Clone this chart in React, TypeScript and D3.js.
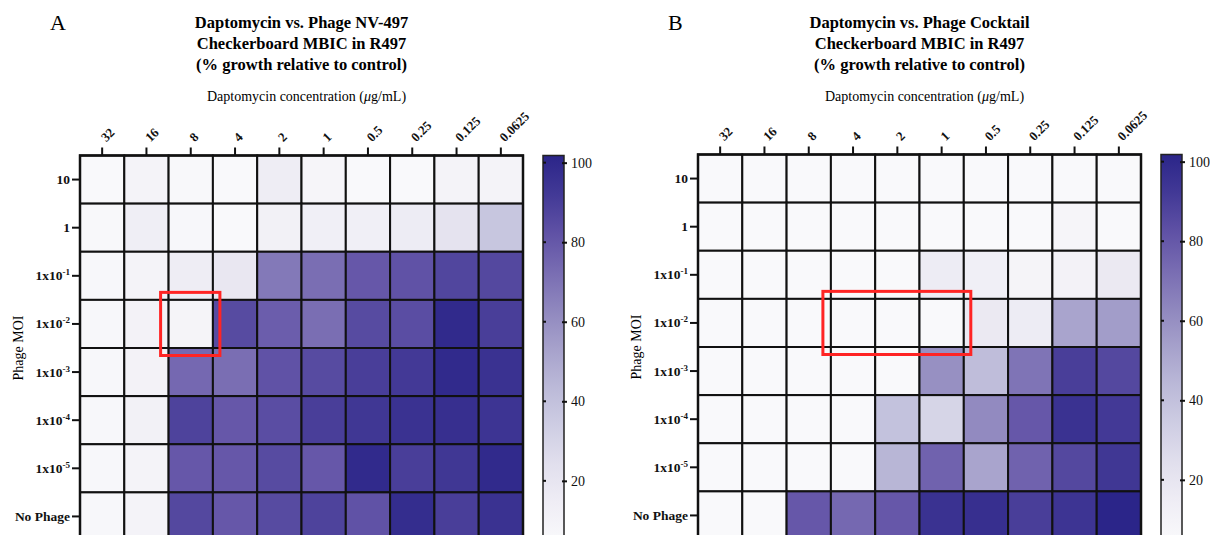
import React, { useEffect, useRef } from 'react';
import * as d3 from 'd3';

const daptoConc = ['32', '16', '8', '4', '2', '1', '0.5', '0.25', '0.125', '0.0625'];
const phageMoi = ['10', '1', '1x10-1', '1x10-2', '1x10-3', '1x10-4', '1x10-5', 'No Phage'];

// % growth relative to control, rows = phage MOI, cols = daptomycin conc
const growthNV497 = [
  [2, 10, 6, 5, 15, 8, 5, 5, 10, 10],
  [6, 14, 7, 5, 12, 13, 13, 16, 22, 38],
  [7, 10, 15, 20, 68, 72, 80, 82, 87, 86],
  [7, 11, 9, 85, 78, 72, 85, 84, 98, 90],
  [7, 11, 74, 72, 82, 85, 90, 92, 98, 95],
  [7, 12, 88, 80, 84, 90, 93, 95, 96, 94],
  [7, 10, 80, 80, 85, 80, 98, 90, 93, 98],
  [7, 10, 86, 80, 85, 88, 82, 97, 90, 95],
];

const growthCocktail = [
  [4, 5, 5, 5, 5, 5, 2, 5, 5, 5],
  [5, 5, 5, 5, 5, 5, 5, 5, 8, 5],
  [5, 5, 5, 5, 5, 16, 13, 9, 11, 18],
  [5, 5, 5, 5, 5, 5, 18, 16, 52, 55],
  [5, 5, 5, 5, 5, 60, 42, 70, 90, 86],
  [5, 5, 5, 5, 40, 30, 62, 80, 95, 92],
  [5, 5, 5, 5, 45, 76, 52, 76, 86, 93],
  [5, 5, 80, 74, 80, 95, 96, 90, 94, 101],
];

const colorStops = [5, 20, 40, 60, 80, 100];
const colorRange = ['#f9f9fb', '#e9e7f1', '#c3c2dd', '#9790c2', '#6657a9', '#2b2589'];
const legendTicks = [20, 40, 60, 80, 100];

const serif = '"Liberation Serif", "DejaVu Serif", serif';

function Panel(props) {
  const { letter, title, data, x0, top, boxCols, boxRow } = props;
  const ref = useRef(null);

  useEffect(() => {
    const g = d3.select(ref.current);
    g.selectAll('*').remove();

    const w = 443, h = 385;
    const x = d3.scaleBand().domain(daptoConc).range([x0, x0 + w]);
    const y = d3.scaleBand().domain(phageMoi).range([top, top + h]);
    const color = d3.scaleLinear().domain(colorStops).range(colorRange).clamp(true);

    // panel letter + title
    g.append('text').attr('x', x0 - 30).attr('y', 30)
      .style('font-family', serif).style('font-size', '22px').text(letter);
    const tl = g.append('text').attr('text-anchor', 'middle')
      .style('font-family', serif).style('font-size', '16.5px').style('font-weight', 'bold');
    title.forEach((t, i) => {
      tl.append('tspan').attr('x', x0 + w / 2).attr('y', 28 + i * 21).text(t);
    });

    // x axis title
    const xt = g.append('text').attr('x', x0 + w / 2 + 5).attr('y', 101)
      .attr('text-anchor', 'middle').style('font-family', serif).style('font-size', '14px');
    xt.append('tspan').text('Daptomycin concentration (');
    xt.append('tspan').style('font-style', 'italic').text('\u03bc');
    xt.append('tspan').text('g/mL)');

    // cells
    const cells = [];
    data.forEach((row, i) => row.forEach((v, j) => cells.push({ r: phageMoi[i], c: daptoConc[j], v })));
    g.selectAll('.cell').data(cells).join('rect').attr('class', 'cell')
      .attr('x', d => x(d.c)).attr('y', d => y(d.r))
      .attr('width', x.bandwidth()).attr('height', y.bandwidth())
      .attr('fill', d => color(d.v))
      .attr('stroke', '#111').attr('stroke-width', 2);
    g.append('rect').attr('x', x0).attr('y', top).attr('width', w).attr('height', h)
      .attr('fill', 'none').attr('stroke', '#111').attr('stroke-width', 2.5);

    // top axis
    const xAxis = g.append('g').attr('transform', `translate(0, ${top})`)
      .call(d3.axisTop(x).tickSize(8).tickSizeOuter(0));
    xAxis.select('.domain').remove();
    xAxis.selectAll('line').attr('stroke', '#111').attr('stroke-width', 2);
    xAxis.selectAll('text')
      .attr('x', 0).attr('y', 0).attr('dy', 0)
      .attr('text-anchor', 'start')
      .attr('transform', 'translate(4, -13) rotate(-45)')
      .attr('fill', '#111')
      .style('font-family', serif).style('font-size', '13px').style('font-weight', 'bold');

    // left axis
    const yAxis = g.append('g').attr('transform', `translate(${x0}, 0)`)
      .call(d3.axisLeft(y).tickSize(8).tickSizeOuter(0).tickFormat(() => ''));
    yAxis.select('.domain').remove();
    yAxis.selectAll('line').attr('stroke', '#111').attr('stroke-width', 2);
    phageMoi.forEach(lab => {
      const t = g.append('text').attr('x', x0 - 10).attr('y', y(lab) + y.bandwidth() / 2 + 4.5)
        .attr('text-anchor', 'end').attr('fill', '#111')
        .style('font-family', serif).style('font-size', '13.5px').style('font-weight', 'bold');
      const m = lab.match(/^(1x10)(-\d)$/);
      if (m) {
        t.append('tspan').text(m[1]);
        t.append('tspan').attr('dy', -5).style('font-size', '9px').text(m[2]);
      } else {
        t.text(lab);
      }
    });

    g.append('text')
      .attr('transform', `translate(${x0 - 57}, ${top + h / 2}) rotate(-90)`)
      .attr('text-anchor', 'middle').style('font-family', serif).style('font-size', '14px')
      .text('Phage MOI');

    // red highlight box
    const bx = x(boxCols[0]) - 8;
    const bw = x(boxCols[boxCols.length - 1]) + x.bandwidth() + 7 - bx;
    g.append('rect').attr('x', bx).attr('y', y(boxRow) - 7.5)
      .attr('width', bw).attr('height', y.bandwidth() + 15)
      .attr('fill', 'none').attr('stroke', '#ff2424').attr('stroke-width', 3);

    // colour bar
    const cbX = x0 + w + 20, cbW = 21;
    const cb = d3.scaleLinear().domain([5, 101.8]).range([top + h, top]);
    const gid = 'grad' + letter;
    const grad = g.append('defs').append('linearGradient').attr('id', gid)
      .attr('x1', 0).attr('y1', 1).attr('x2', 0).attr('y2', 0);
    d3.range(0, 11).forEach(k => {
      const v = 5 + (96.8 * k) / 10;
      grad.append('stop').attr('offset', k / 10).attr('stop-color', color(v));
    });
    g.append('rect').attr('x', cbX).attr('y', top).attr('width', cbW).attr('height', h)
      .attr('fill', `url(#${gid})`).attr('stroke', '#222').attr('stroke-width', 1.5);
    const cAxis = g.append('g').attr('transform', `translate(${cbX + cbW}, 0)`)
      .call(d3.axisRight(cb).tickValues(legendTicks).tickSize(3).tickPadding(4));
    cAxis.select('.domain').remove();
    cAxis.selectAll('line').attr('x1', -2).attr('stroke', '#111').attr('stroke-width', 2);
    cAxis.selectAll('text').attr('fill', '#111')
      .style('font-family', serif).style('font-size', '14px');
    g.selectAll('.cbin').data(legendTicks).join('line').attr('class', 'cbin')
      .attr('x1', cbX).attr('x2', cbX + 3).attr('y1', d => cb(d)).attr('y2', d => cb(d))
      .attr('stroke', '#111').attr('stroke-width', 2);
  }, []);

  return <g ref={ref} />;
}

export default function App() {
  return (
    <svg width={1210} height={535}
      style={{ position: 'absolute', left: 0, top: 0, background: '#fff' }}>
      <Panel letter="A" x0={80} top={155.5} data={growthNV497}
        title={['Daptomycin vs. Phage NV-497', 'Checkerboard MBIC in R497', '(% growth relative to control)']}
        boxCols={['8']} boxRow="1x10-2" />
      <Panel letter="B" x0={698} top={154.5} data={growthCocktail}
        title={['Daptomycin vs. Phage Cocktail', 'Checkerboard MBIC in R497', '(% growth relative to control)']}
        boxCols={['4', '2', '1']} boxRow="1x10-2" />
    </svg>
  );
}
